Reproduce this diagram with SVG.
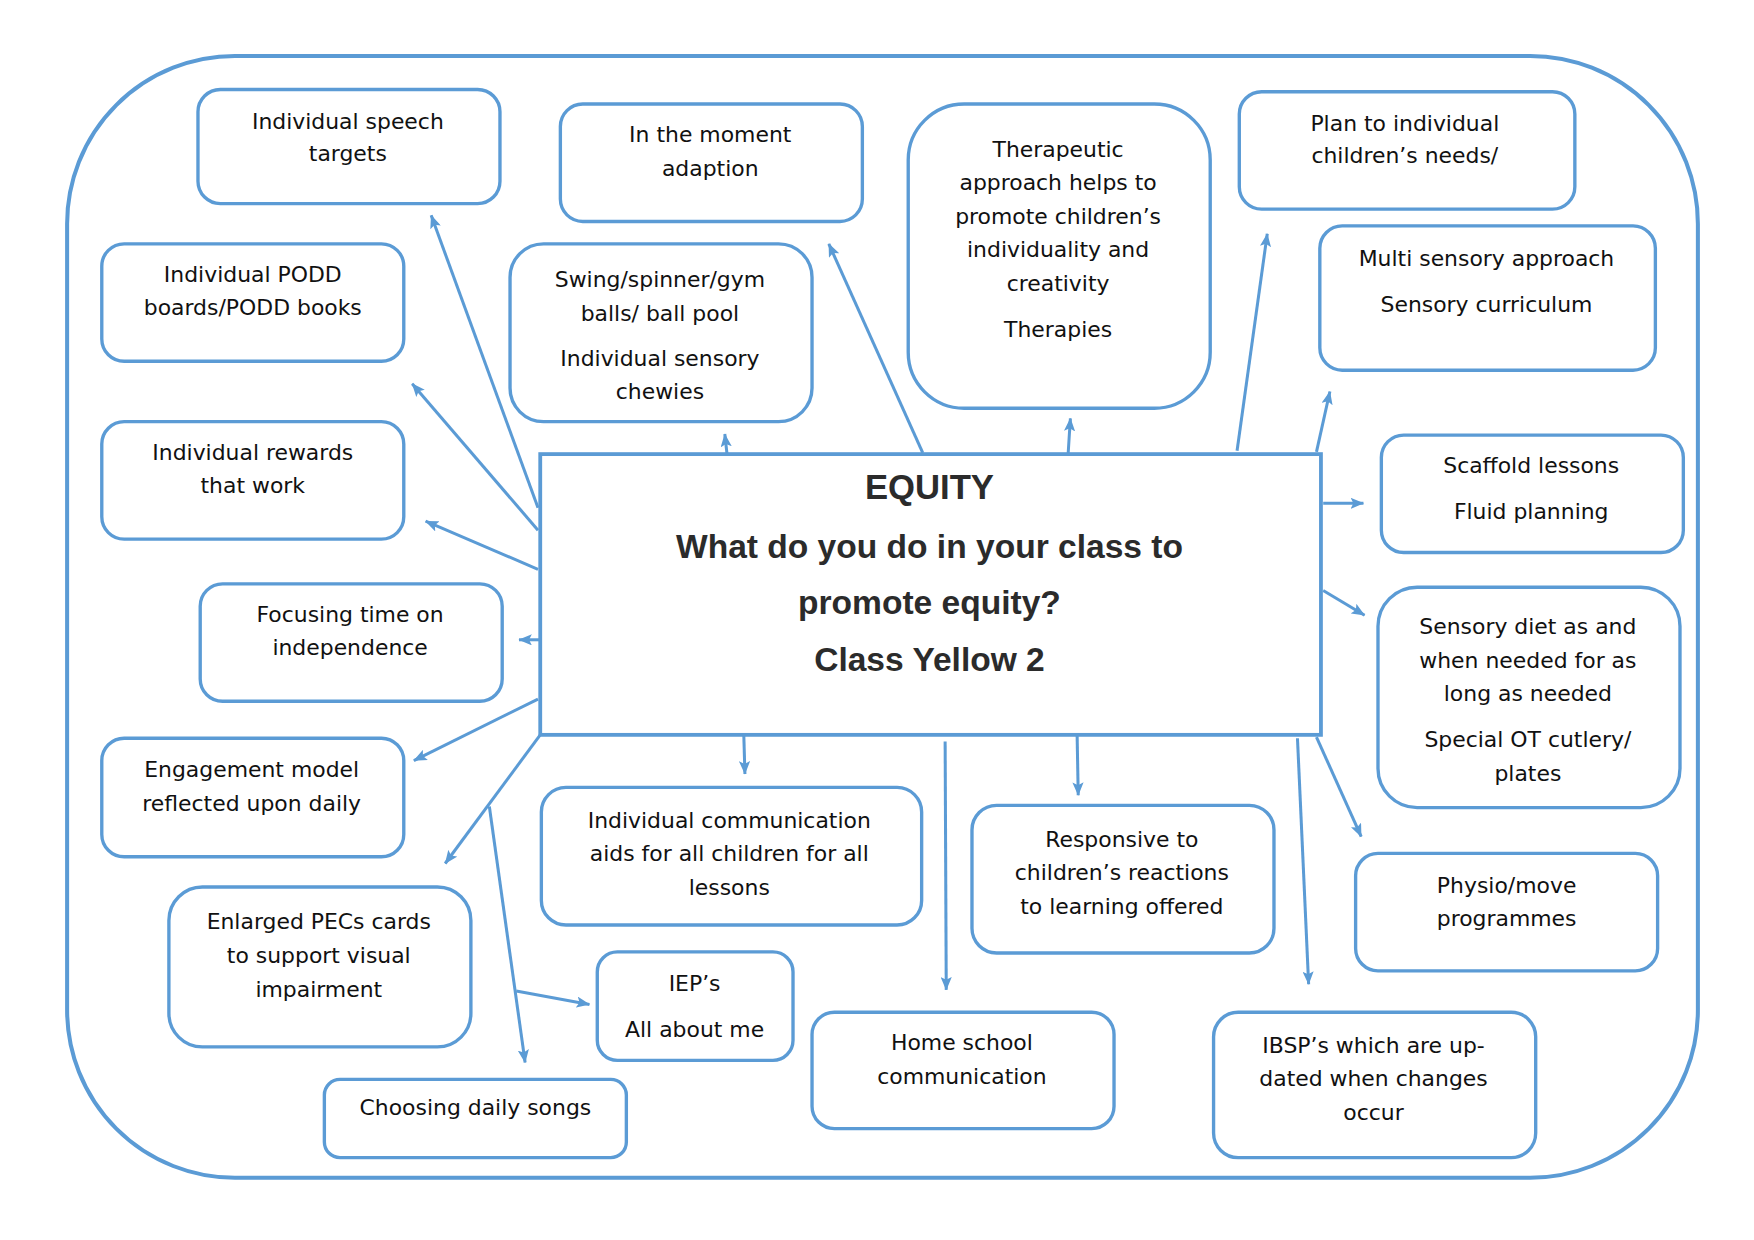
<svg xmlns="http://www.w3.org/2000/svg" width="1754" height="1240" viewBox="0 0 1754 1240">
<defs>
<style>
.box{fill:#fff;stroke:#5B9BD5;stroke-width:3}
.frame{fill:none;stroke:#5B9BD5;stroke-width:3.6}
.center{fill:#fff;stroke:#5B9BD5;stroke-width:3.4}
.t{font-family:"DejaVu Sans","Liberation Sans",sans-serif;font-size:19.6px;fill:#111;text-anchor:middle}
.h{font-family:"Liberation Sans",Arial,sans-serif;font-weight:bold;fill:#2b2b2b;text-anchor:middle}
.c line{stroke:#5B9BD5;stroke-width:2.7;marker-end:url(#ah)}
</style>
<marker id="ah" viewBox="0 0 12 10" refX="11.5" refY="5" markerWidth="12" markerHeight="10" markerUnits="userSpaceOnUse" orient="auto">
<path d="M0,0 L12,5 L0,10 L2.5,5 z" fill="#5B9BD5"/>
</marker>
</defs>
<rect width="1754" height="1240" fill="#fff"/>
<g transform="scale(1.1185)">
<rect id="frame" class="frame" x="60" y="50" width="1458" height="1003" rx="150" ry="150"/>

<g id="connectors" class="c">
<line x1="481" y1="454" x2="385.5" y2="192.5"/>
<line x1="481" y1="474" x2="368.5" y2="343"/>
<line x1="481" y1="509" x2="380.5" y2="466"/>
<line x1="483" y1="572" x2="464" y2="572"/>
<line x1="481" y1="625" x2="370" y2="680"/>
<line x1="483" y1="657" x2="398" y2="772"/>
<line x1="437.5" y1="721" x2="469.5" y2="950"/>
<line x1="461.5" y1="886" x2="527" y2="898"/>
<line x1="650" y1="406" x2="648" y2="388"/>
<line x1="825" y1="405" x2="741" y2="218"/>
<line x1="955" y1="405" x2="957" y2="374"/>
<line x1="1106" y1="403" x2="1133" y2="209"/>
<line x1="1177" y1="404" x2="1189" y2="350"/>
<line x1="1183" y1="450" x2="1219" y2="450"/>
<line x1="1183" y1="528" x2="1220" y2="550"/>
<line x1="1177" y1="659" x2="1217" y2="748"/>
<line x1="1160" y1="660" x2="1170" y2="880"/>
<line x1="963" y1="657" x2="964" y2="711"/>
<line x1="845" y1="663" x2="846" y2="885"/>
<line x1="665" y1="657" x2="666" y2="692"/>
</g>

<g id="center">
<rect class="center" x="483" y="406" width="698" height="251"/>
<text class="h" x="831" y="446" font-size="31">EQUITY</text>
<text class="h" x="831" y="499" font-size="30">What do you do in your class to</text>
<text class="h" x="831" y="549" font-size="30">promote equity?</text>
<text class="h" x="831" y="600" font-size="30">Class Yellow 2</text>
</g>

<g id="n-speech">
<rect class="box" x="177" y="80" width="270" height="102" rx="20"/>
<text class="t" x="311" y="115">Individual speech</text>
<text class="t" x="311" y="144">targets</text>
</g>
<g id="n-moment">
<rect class="box" x="501" y="93" width="270" height="105" rx="20"/>
<text class="t" x="635" y="127">In the moment</text>
<text class="t" x="635" y="157">adaption</text>
</g>
<g id="n-therapeutic">
<rect class="box" x="812" y="93" width="270" height="272" rx="50"/>
<text class="t" x="946" y="140">Therapeutic</text>
<text class="t" x="946" y="170">approach helps to</text>
<text class="t" x="946" y="200">promote children’s</text>
<text class="t" x="946" y="230">individuality and</text>
<text class="t" x="946" y="260">creativity</text>
<text class="t" x="946" y="301">Therapies</text>
</g>
<g id="n-plan">
<rect class="box" x="1108" y="82" width="300" height="105" rx="20"/>
<text class="t" x="1256" y="117">Plan to individual</text>
<text class="t" x="1256" y="146">children’s needs/</text>
</g>
<g id="n-multi">
<rect class="box" x="1180" y="202" width="300" height="129" rx="20"/>
<text class="t" x="1329" y="238">Multi sensory approach</text>
<text class="t" x="1329" y="279">Sensory curriculum</text>
</g>
<g id="n-podd">
<rect class="box" x="91" y="218" width="270" height="105" rx="20"/>
<text class="t" x="226" y="252">Individual PODD</text>
<text class="t" x="226" y="282">boards/PODD books</text>
</g>
<g id="n-swing">
<rect class="box" x="456" y="218" width="270" height="159" rx="30"/>
<text class="t" x="590" y="257">Swing/spinner/gym</text>
<text class="t" x="590" y="287">balls/ ball pool</text>
<text class="t" x="590" y="327">Individual sensory</text>
<text class="t" x="590" y="357">chewies</text>
</g>
<g id="n-rewards">
<rect class="box" x="91" y="377" width="270" height="105" rx="20"/>
<text class="t" x="226" y="411">Individual rewards</text>
<text class="t" x="226" y="441">that work</text>
</g>
<g id="n-scaffold">
<rect class="box" x="1235" y="389" width="270" height="105" rx="20"/>
<text class="t" x="1369" y="423">Scaffold lessons</text>
<text class="t" x="1369" y="464">Fluid planning</text>
</g>
<g id="n-focusing">
<rect class="box" x="179" y="522" width="270" height="105" rx="20"/>
<text class="t" x="313" y="556">Focusing time on</text>
<text class="t" x="313" y="586">independence</text>
</g>
<g id="n-sensorydiet">
<rect class="box" x="1232" y="525" width="270" height="197" rx="35"/>
<text class="t" x="1366" y="567">Sensory diet as and</text>
<text class="t" x="1366" y="597">when needed for as</text>
<text class="t" x="1366" y="627">long as needed</text>
<text class="t" x="1366" y="668">Special OT cutlery/</text>
<text class="t" x="1366" y="698">plates</text>
</g>
<g id="n-engagement">
<rect class="box" x="91" y="660" width="270" height="106" rx="20"/>
<text class="t" x="225" y="695">Engagement model</text>
<text class="t" x="225" y="725">reflected upon daily</text>
</g>
<g id="n-commaids">
<rect class="box" x="484" y="704" width="340" height="123" rx="22"/>
<text class="t" x="652" y="740">Individual communication</text>
<text class="t" x="652" y="770">aids for all children for all</text>
<text class="t" x="652" y="800">lessons</text>
</g>
<g id="n-responsive">
<rect class="box" x="869" y="720" width="270" height="132" rx="22"/>
<text class="t" x="1003" y="757">Responsive to</text>
<text class="t" x="1003" y="787">children’s reactions</text>
<text class="t" x="1003" y="817">to learning offered</text>
</g>
<g id="n-physio">
<rect class="box" x="1212" y="763" width="270" height="105" rx="20"/>
<text class="t" x="1347" y="798">Physio/move</text>
<text class="t" x="1347" y="828">programmes</text>
</g>
<g id="n-pecs">
<rect class="box" x="151" y="793" width="270" height="143" rx="30"/>
<text class="t" x="285" y="831">Enlarged PECs cards</text>
<text class="t" x="285" y="861">to support visual</text>
<text class="t" x="285" y="891">impairment</text>
</g>
<g id="n-iep">
<rect class="box" x="534" y="851" width="175" height="97" rx="18"/>
<text class="t" x="621" y="886">IEP’s</text>
<text class="t" x="621" y="927">All about me</text>
</g>
<g id="n-home">
<rect class="box" x="726" y="905" width="270" height="104" rx="20"/>
<text class="t" x="860" y="939">Home school</text>
<text class="t" x="860" y="969">communication</text>
</g>
<g id="n-ibsp">
<rect class="box" x="1085" y="905" width="288" height="130" rx="22"/>
<text class="t" x="1228" y="941">IBSP’s which are up-</text>
<text class="t" x="1228" y="971">dated when changes</text>
<text class="t" x="1228" y="1001">occur</text>
</g>
<g id="n-songs">
<rect class="box" x="290" y="965" width="270" height="70" rx="14"/>
<text class="t" x="425" y="997">Choosing daily songs</text>
</g>
</g>
</svg>
